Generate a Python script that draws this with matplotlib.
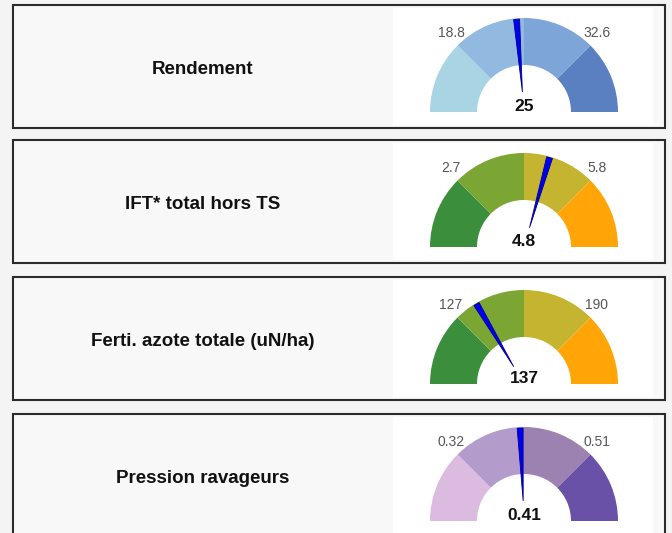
import numpy as np
import matplotlib.pyplot as plt
from matplotlib.patches import Rectangle, Wedge, Polygon

plt.rcParams['font.family'] = ['Liberation Sans', 'DejaVu Sans']

# indicator data
labels = ["Rendement", "IFT* total hors TS",
          "Ferti. azote totale (uN/ha)", "Pression ravageurs"]
low = [18.8, 2.7, 127, 0.32]
high = [32.6, 5.8, 190, 0.51]
values = [25, 4.8, 137, 0.41]
palettes = [
    ['#a8d4e4', '#92b9df', '#7ea5d8', '#5b80c2'],
    ['#3b8e3b', '#7ca634', '#c4b42f', '#ffa507'],
    ['#3b8e3b', '#7ca634', '#c4b42f', '#ffa507'],
    ['#dbbce0', '#b39ccb', '#9b82b1', '#6a51a8'],
]

W, H = 672, 533
fig = plt.figure(figsize=(W / 100, H / 100), dpi=100, facecolor='#f4f4f4')
ax = fig.add_axes([0, 0, 1, 1])
ax.set_xlim(0, W)
ax.set_ylim(0, H)
ax.axis('off')

# layout in image pixels (top-down), converted below
panel_top = [5, 140, 277, 414]
panel_h = 123
box_left, box_right = 13, 665
gauge_left, gauge_right = 393, 653
cx = 524
R, r_in = 94, 47

for i, label in enumerate(labels):
    top = H - panel_top[i]
    bottom = top - panel_h
    ax.add_patch(Rectangle((box_left, bottom), box_right - box_left, panel_h,
                           facecolor='#f8f8f8', edgecolor='#2b2b2b', lw=1.5))
    ax.add_patch(Rectangle((gauge_left, bottom + 3), gauge_right - gauge_left,
                           panel_h - 6, facecolor='white', edgecolor='none'))
    ax.text((box_left + gauge_left) / 2, (top + bottom) / 2 - 3, label,
            fontsize=13.5, fontweight='bold', ha='center', va='center',
            color='#111111')

    cy = top - 107
    for k, c in enumerate(palettes[i]):
        ax.add_patch(Wedge((cx, cy), R, 180 - 45 * (k + 1), 180 - 45 * k,
                           width=R - r_in, facecolor=c, edgecolor='none'))

    span = high[i] - low[i]
    lo, hi = low[i] - span / 2, high[i] + span / 2
    ang = np.radians(180 * (hi - values[i]) / (hi - lo))
    d = np.array([np.cos(ang), np.sin(ang)])
    n = np.array([-d[1], d[0]])
    base = np.array([cx, cy]) + 20 * d
    tip = np.array([cx, cy]) + (R - 1) * d
    ax.add_patch(Polygon([base, tip + 3 * n, tip - 3 * n], closed=True,
                         facecolor='#0000f0', edgecolor='#00008b', lw=0.6))

    for thr, sx in ((low[i], -1), (high[i], 1)):
        ax.text(cx + sx * 73, cy + 79, f"{thr:g}", fontsize=10,
                color='#555555', ha='center', va='center')

    ax.text(cx, cy + 1, f"{values[i]:g}", fontsize=12.5, fontweight='bold',
            ha='center', va='baseline', color='#111111')

fig.savefig('out.png', dpi=100, facecolor=fig.get_facecolor())
